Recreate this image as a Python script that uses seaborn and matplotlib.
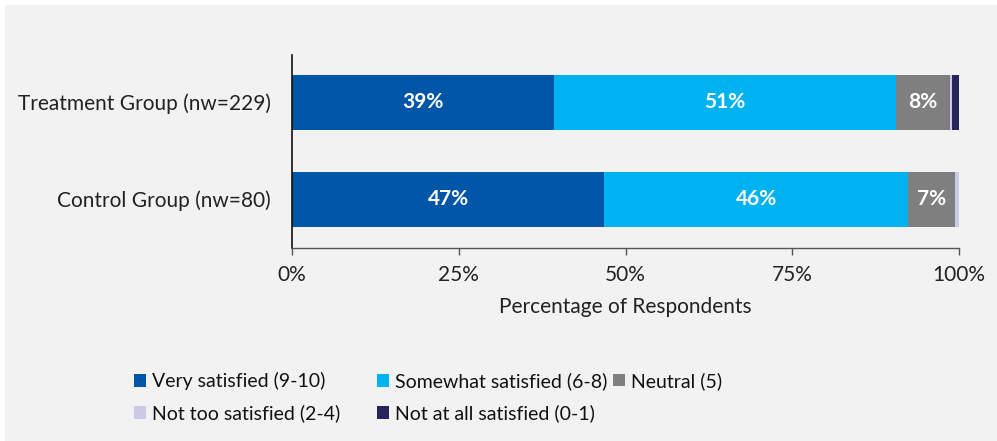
import numpy as np
import pandas as pd
import matplotlib
matplotlib.use("Agg")
import matplotlib.pyplot as plt
from matplotlib.patches import Rectangle, Patch
from matplotlib.ticker import FuncFormatter
import seaborn as sns

# Survey results: share of respondents per satisfaction level (%)
groups = ["Treatment Group (nw=229)", "Control Group (nw=80)"]
levels = ["Very satisfied (9-10)", "Somewhat satisfied (6-8)", "Neutral (5)",
          "Not too satisfied (2-4)", "Not at all satisfied (0-1)"]
very_satisfied = [39.3, 46.8]
somewhat_satisfied = [51.2, 45.6]
neutral = [8.1, 7.0]
not_too_satisfied = [0.4, 0.6]
not_at_all_satisfied = [1.0, 0.0]
colors = ["#0056A6", "#00B2EF", "#7F7F7F", "#CACAE8", "#27245E"]
x_ticks = [0, 25, 50, 75, 100]

series = [very_satisfied, somewhat_satisfied, neutral,
          not_too_satisfied, not_at_all_satisfied]

sns.set_theme(style="white")
plt.rcParams["font.family"] = ["Lato", "DejaVu Sans"]

fig = plt.figure(figsize=(9.97, 4.41), dpi=100, facecolor="white")
fig.patches.append(Rectangle((5 / 997, 0), 1, 1 - 5 / 441, transform=fig.transFigure,
                             facecolor="#F2F2F2", edgecolor="none", zorder=-5))
ax = fig.add_axes([292 / 997, 1 - 248 / 441, 667 / 997, 193 / 441])
ax.set_facecolor("none")
ax.set_zorder(2)

# Stacked bars: draw cumulative totals from the outermost segment inwards
cum = np.cumsum(np.array(series), axis=0)
for k in range(len(levels) - 1, -1, -1):
    df = pd.DataFrame({"group": groups, "value": cum[k]})
    sns.barplot(data=df, y="group", x="value", orient="h", color=colors[k],
                width=0.567, saturation=1, ax=ax, linewidth=0, zorder=2)

# Value labels for the larger segments
for k, vals in enumerate(series):
    for i, v in enumerate(vals):
        if v >= 5:
            center = cum[k][i] - v / 2
            ax.text(center, i, f"{round(v):.0f}%", ha="center", va="center",
                    color="white", fontsize=15, fontweight="bold", zorder=3)

ax.set_xlim(0, 100)
ax.set_ylim(1.505, -0.485)
ax.set_xticks(x_ticks)
ax.xaxis.set_major_formatter(FuncFormatter(lambda v, p: f"{v:.0f}%"))
ax.set_xlabel("Percentage of Respondents", fontsize=15, color="#222222", labelpad=9)
ax.set_ylabel("")
ax.tick_params(axis="x", length=5, width=1, color="#555555", labelsize=15,
               labelcolor="#222222", pad=7, bottom=True, direction="out")
ax.tick_params(axis="y", length=0, labelsize=15, labelcolor="#222222", pad=15)
for side in ["top", "right"]:
    ax.spines[side].set_visible(False)
ax.spines["left"].set_color("#111111")
ax.spines["left"].set_linewidth(1.2)
ax.spines["bottom"].set_color("#555555")
ax.spines["bottom"].set_linewidth(1.0)

# Legend: two aligned columns, with the "Neutral" entry following on the first row
handles = [Patch(facecolor=c, edgecolor="none") for c in colors]
legend_kw = dict(frameon=False, fontsize=14, handlelength=0.62, handleheight=0.62,
                 handletextpad=0.3, labelspacing=0.75, borderpad=0, borderaxespad=0,
                 labelcolor="#111111", loc="upper left")
order = [0, 3, 1, 4]
fig.legend([handles[i] for i in order], [levels[i] for i in order], ncol=2,
           columnspacing=1.9, bbox_to_anchor=(134 / 997, 1 - 372 / 441), **legend_kw)
fig.legend([handles[2]], [levels[2]], ncol=1,
           bbox_to_anchor=(613 / 997, 1 - 372 / 441), **legend_kw)

fig.savefig("out.png", dpi=100, facecolor=fig.get_facecolor())
